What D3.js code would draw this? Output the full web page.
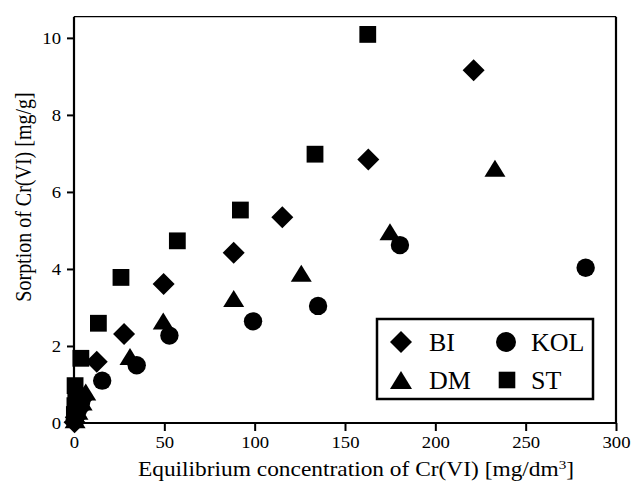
<!DOCTYPE html>
<html>
<head>
<meta charset="utf-8">
<script src="https://cdn.jsdelivr.net/npm/d3@7"></script>
<style>
  html, body { margin: 0; padding: 0; background: #fff; }
  svg { display: block; font-family: "Liberation Serif", "Times New Roman", serif; }
</style>
</head>
<body>
<svg id="chart" width="632" height="484"></svg>
<script>
// Cr(VI) sorption isotherms: [equilibrium concentration, sorption]
const seriesBI  = [[0.3, 0.02], [1.0, 0.15], [2.5, 0.35], [4.5, 0.62], [12.6, 1.59], [27.7, 2.31], [49.6, 3.61], [88.4, 4.42], [115.3, 5.34], [162.9, 6.84], [221.2, 9.16]];
const seriesDM  = [[0.6, 0.06], [2.2, 0.28], [4.5, 0.52], [6.5, 0.78], [31.0, 1.70], [49.4, 2.62], [88.4, 3.21], [125.8, 3.86], [174.9, 4.94], [233.0, 6.59]];
const seriesKOL = [[0.5, 0.10], [2.0, 0.32], [4.0, 0.55], [15.6, 1.10], [34.7, 1.50], [52.8, 2.27], [99.1, 2.64], [135.1, 3.04], [180.4, 4.62], [283.2, 4.03]];
const seriesST  = [[0.2, 0.22], [0.5, 0.45], [1.0, 0.70], [0.6, 0.97], [3.8, 1.68], [13.5, 2.59], [26.0, 3.78], [57.2, 4.73], [92.1, 5.53], [133.4, 6.98], [162.6, 10.09]];

const seriesNames = ["BI", "DM", "KOL", "ST"];
const xTicks = [0, 50, 100, 150, 200, 250, 300];
const yTicks = [0, 2, 4, 6, 8, 10];

const W = 632, H = 484;
const margin = { left: 74, right: 16, top: 16.7, bottom: 61 };

const svg = d3.select("#chart");

const x = d3.scaleLinear().domain([0, 300]).range([margin.left, W - margin.right]);
const y = d3.scaleLinear().domain([0, 10.55]).range([H - margin.bottom, margin.top]);

// Marker shapes (r = half-size in px)
const circlePath = r => { const p = d3.path(); p.arc(0, 0, r, 0, 2 * Math.PI); p.closePath(); return p.toString(); };
const shapes = {
  BI:  r => `M0,${-r}L${r},0L0,${r}L${-r},0Z`,
  DM:  r => `M0,${-r * 0.95}L${r * 1.05},${r * 0.75}L${-r * 1.05},${r * 0.75}Z`,
  KOL: r => circlePath(r),
  ST:  r => `M${-r},${-r}H${r}V${r}H${-r}Z`
};
const sizes = { BI: 11, DM: 10, KOL: 9.2, ST: 8.4 };
const data = { BI: seriesBI, DM: seriesDM, KOL: seriesKOL, ST: seriesST };

// Frame: top line is thinner than the other sides
svg.append("line")
  .attr("x1", x(0)).attr("x2", x(300)).attr("y1", y(10.55)).attr("y2", y(10.55))
  .attr("stroke", "#000").attr("stroke-width", 1.2);
svg.append("line")
  .attr("x1", x(300)).attr("x2", x(300)).attr("y1", y(10.55)).attr("y2", y(0))
  .attr("stroke", "#000").attr("stroke-width", 2.2);

// Axes (tick labels slightly widened horizontally)
const xAxis = svg.append("g")
  .attr("transform", `translate(0,${y(0)})`)
  .call(d3.axisBottom(x).tickValues(xTicks).tickSize(8).tickPadding(5).tickFormat(d3.format("d")));
const yAxis = svg.append("g")
  .attr("transform", `translate(${x(0)},0)`)
  .call(d3.axisLeft(y).tickValues(yTicks).tickSize(7).tickPadding(6).tickFormat(d3.format("d")));

const tickStretch = 1.1;
[xAxis, yAxis].forEach(g => {
  g.select(".domain").attr("stroke", "#000").attr("stroke-width", 2.2);
  g.selectAll(".tick line").attr("stroke", "#000").attr("stroke-width", 2);
  g.selectAll(".tick text")
    .attr("fill", "#000")
    .style("font-family", "'Liberation Serif', 'Times New Roman', serif")
    .style("font-size", "17px");
});
xAxis.selectAll(".tick text").attr("transform", `scale(${tickStretch},1)`);
yAxis.selectAll(".tick text")
  .attr("x", -13 / tickStretch)
  .attr("transform", `scale(${tickStretch},1)`);
xAxis.select(".domain").attr("d", `M${x(0)},0H${x(300)}`);
yAxis.select(".domain").attr("d", `M0,${y(0)}V${y(10.55)}`);

// Data markers
const plot = svg.append("g");
["DM", "KOL", "ST", "BI"].forEach(name => {
  plot.selectAll(null)
    .data(data[name])
    .join("path")
    .attr("transform", d => `translate(${x(d[0])},${y(d[1])})`)
    .attr("d", shapes[name](sizes[name]))
    .attr("fill", "#000");
});

// Axis titles
const titleStretch = 1.17;
svg.append("text")
  .attr("transform", `translate(356,476) scale(${titleStretch},1)`)
  .attr("text-anchor", "middle")
  .style("font-size", "20px")
  .html('Equilibrium concentration of Cr(VI) [mg/dm<tspan dy="-7" font-size="13px">3</tspan><tspan dy="7">]</tspan>');

svg.append("text")
  .attr("transform", `translate(31,197) scale(${titleStretch},1) rotate(-90)`)
  .attr("text-anchor", "middle")
  .style("font-size", "20px")
  .text("Sorption of Cr(VI) [mg/g]");

// Legend
const legend = svg.append("g");
legend.append("rect")
  .attr("x", 377).attr("y", 319).attr("width", 216).attr("height", 80)
  .attr("fill", "#fff").attr("stroke", "#000").attr("stroke-width", 2.5);

const legendItems = [
  { name: "BI",  mx: 401, my: 342, tx: 429, ty: 351 },
  { name: "KOL", mx: 506, my: 342, tx: 531, ty: 351 },
  { name: "DM",  mx: 401, my: 381, tx: 429, ty: 389 },
  { name: "ST",  mx: 507, my: 380, tx: 531, ty: 389 }
];
const legendSizes = { BI: 11, DM: 10.5, KOL: 10, ST: 8.3 };
legendItems.forEach(it => {
  legend.append("path")
    .attr("transform", `translate(${it.mx},${it.my})`)
    .attr("d", shapes[it.name](legendSizes[it.name]))
    .attr("fill", "#000");
  legend.append("text")
    .attr("x", it.tx).attr("y", it.ty)
    .style("font-size", "26px")
    .text(it.name);
});
</script>
</body>
</html>
